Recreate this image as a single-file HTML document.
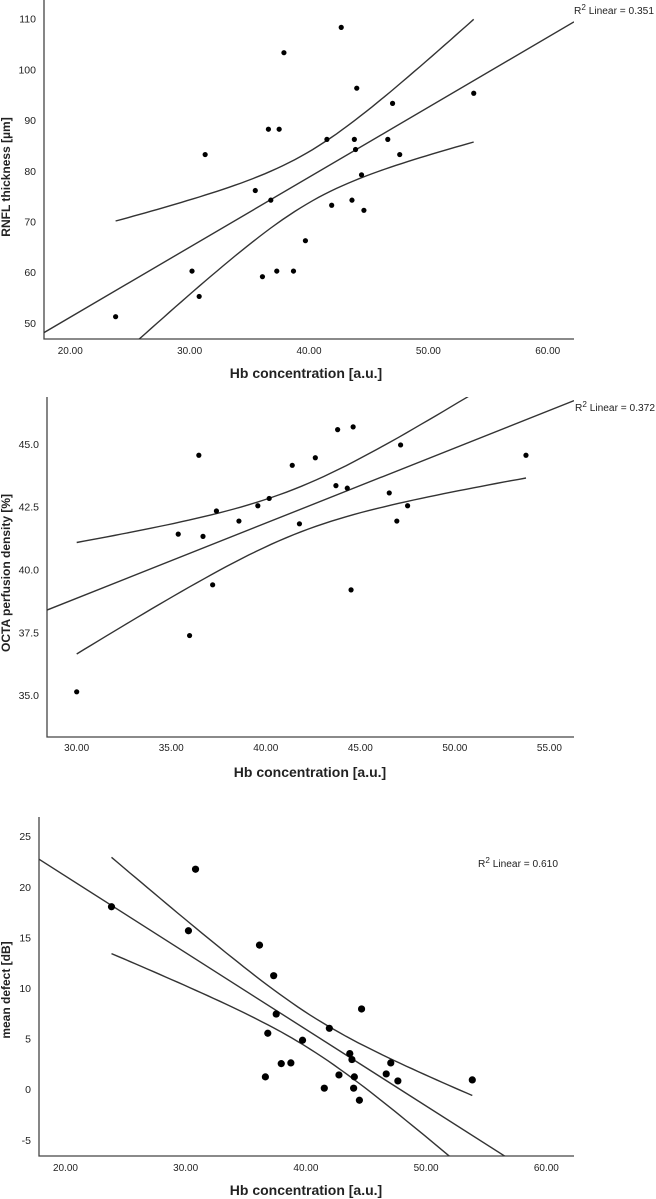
<!DOCTYPE html>
<html><head><meta charset="utf-8">
<style>
html,body{margin:0;padding:0;background:#fff;}
svg{display:block;}
text{font-family:"Liberation Sans Narrow","Liberation Sans",sans-serif;fill:#222;}
.tick{font-size:10.5px;}
.title{font-size:14px;font-weight:bold;font-family:"Liberation Sans",sans-serif;}
.ytitle{font-size:12px;font-weight:bold;font-family:"Liberation Sans",sans-serif;}
.r2{font-size:10px;}
</style></head>
<body>
<svg id="chart" width="656" height="1199" viewBox="0 0 656 1199"></svg>
<script>
// Panel 1: RNFL thickness
const rnflHb = [23.8,30.2,30.8,31.3,35.5,36.1,36.6,36.8,37.3,37.5,37.9,38.7,39.7,41.5,41.9,42.7,43.6,43.8,43.9,44.0,44.4,44.6,46.6,47.0,47.6,53.8];
const rnflVal = [51.2,60.2,55.2,83.2,76.1,59.1,88.2,74.2,60.2,88.2,103.3,60.2,66.2,86.2,73.2,108.3,74.2,86.2,84.2,96.3,79.2,72.2,86.2,93.3,83.2,95.3];
const rnflXTicks = [20,30,40,50,60];
const rnflYTicks = [50,60,70,80,90,100,110];
// Panel 2: OCTA perfusion density
const octaHb = [30.0,35.37,35.97,36.46,36.68,37.19,37.39,38.58,39.58,40.18,41.40,41.78,42.62,43.71,43.80,44.31,44.51,44.62,46.53,46.93,47.13,47.50,53.76];
const octaVal = [35.13,41.41,37.37,44.55,41.32,39.39,42.33,41.93,42.54,42.83,44.15,41.82,44.45,43.34,45.57,43.24,39.19,45.68,43.05,41.93,44.96,42.54,44.55];
const octaXTicks = [30,35,40,45,50,55];
const octaYTicks = [35,37.5,40,42.5,45];
// Panel 3: mean defect
const mdHb = [23.83,30.23,30.82,36.14,36.63,36.83,37.32,37.53,37.95,38.75,39.72,41.53,41.95,42.75,43.65,43.83,43.97,44.03,44.45,44.63,46.68,47.06,47.65,53.84];
const mdVal = [18.03,15.66,21.74,14.24,1.22,5.53,11.22,7.43,2.53,2.60,4.84,0.10,6.02,1.41,3.52,2.93,0.10,1.22,-1.09,7.93,1.51,2.60,0.82,0.92];
const mdXTicks = [20,30,40,50,60];
const mdYTicks = [-5,0,5,10,15,20,25];
const r2Labels = ["0.351","0.372","0.610"];

const NS = "http://www.w3.org/2000/svg";
const svg = document.getElementById('chart');
function mk(tag, attrs, parent){const e=document.createElementNS(NS,tag);for(const k in attrs)e.setAttribute(k,attrs[k]);(parent||svg).appendChild(e);return e;}

function panel(cfg, idx){
  const g = mk('g',{});
  
  
  const {L,R,T,B,xmin,xmax,ymin,ymax} = cfg;
  const sx = v => L + (v - xmin)/(xmax - xmin)*(R - L);
  const sy = v => B - (v - ymin)/(ymax - ymin)*(B - T);
  const clipId = 'clip'+idx;
  const cp = mk('clipPath',{id:clipId},g); mk('rect',{x:L,y:T,width:R-L,height:B-T},cp);
  const ax = mk('path',{d:`M${L},${T} L${L},${B} L${R},${B}`,fill:'none',stroke:'#444','stroke-width':1.3},g);
  
  
  cfg.xt.forEach(t=>{
    const e=mk('text',{x:sx(t),y:cfg.xly,'text-anchor':'middle',class:'tick',textLength:25,lengthAdjust:'spacingAndGlyphs'},g); e.textContent=t.toFixed(2);
    
    
  });
  cfg.yt.forEach(t=>{
    const e=mk('text',{x:L-8,y:sy(t)+4,'text-anchor':'end',class:'tick'},g); e.textContent=cfg.yfmt(t);
    
    
  });
  const xt=mk('text',{x:cfg.xtx,y:cfg.xty,'text-anchor':'middle',class:'title'},g); xt.textContent='Hb concentration [a.u.]';
  
  
  const yt=mk('text',{x:0,y:0,'text-anchor':'middle',class:'ytitle',transform:`translate(${cfg.ytx},${cfg.yty}) rotate(-90)`},g); yt.textContent=cfg.ytitle;
  
  
  const r2=mk('text',{x:cfg.r2x,y:cfg.r2y,class:'r2',textLength:80,lengthAdjust:'spacingAndGlyphs'},g);
  r2.innerHTML='R<tspan font-size="8" dy="-4">2</tspan><tspan dy="4"> Linear = '+r2Labels[idx]+'</tspan>';
  
  
  const X=cfg.x, Y=cfg.y, n=X.length;
  const mx=X.reduce((a,b)=>a+b,0)/n, my=Y.reduce((a,b)=>a+b,0)/n;
  let sxx=0,sxy=0; for(let i=0;i<n;i++){sxx+=(X[i]-mx)**2;sxy+=(X[i]-mx)*(Y[i]-my);}
  const b=sxy/sxx, a=my-b*mx;
  let sse=0; for(let i=0;i<n;i++) sse+=(Y[i]-a-b*X[i])**2;
  const s=Math.sqrt(sse/(n-2)), tq=2.07;
  const lg=mk('g',{'clip-path':`url(#${clipId})`},g);
  const fl=mk('line',{x1:sx(xmin),y1:sy(a+b*xmin),x2:sx(xmax),y2:sy(a+b*xmax),stroke:'#333','stroke-width':1.4},lg);
  
  
  const x0=Math.min(...X), x1=Math.max(...X);
  [1,-1].forEach(sg=>{
    let d='';
    for(let k=0;k<=60;k++){const xv=x0+(x1-x0)*k/60; const se=s*Math.sqrt(1/n+(xv-mx)**2/sxx); const yv=a+b*xv+sg*tq*se; d+=(k?'L':'M')+sx(xv).toFixed(1)+','+sy(yv).toFixed(1);}
    const p=mk('path',{d,fill:'none',stroke:'#333','stroke-width':1.4},lg);
    
    
  });
  for(let i=0;i<n;i++){
    const c=mk('circle',{cx:sx(X[i]),cy:sy(Y[i]),r:cfg.r,fill:'#000'},g);
    
    
  }
}

panel({name:'rnfl-panel',x:rnflHb,y:rnflVal,xt:rnflXTicks,yt:rnflYTicks,yfmt:t=>String(t),
  L:44,R:574,T:0,B:339,xmin:17.8,xmax:62.2,ymin:46.8,ymax:113.7,xly:354,xtx:306,xty:378,
  ytx:10,yty:177,ytitle:'RNFL thickness [µm]',r2x:574,r2y:14,r:2.6},0);
panel({name:'octa-panel',x:octaHb,y:octaVal,xt:octaXTicks,yt:octaYTicks,yfmt:t=>t.toFixed(1),
  L:47,R:574,T:397,B:737,xmin:28.43,xmax:56.3,ymin:33.33,ymax:46.87,xly:751,xtx:310,xty:777,
  ytx:10,yty:573,ytitle:'OCTA perfusion density [%]',r2x:575,r2y:411,r:2.6},1);
panel({name:'mean-defect-panel',x:mdHb,y:mdVal,xt:mdXTicks,yt:mdYTicks,yfmt:t=>String(t),
  L:39,R:574,T:817,B:1156,xmin:17.8,xmax:62.3,ymin:-6.6,ymax:26.9,xly:1171,xtx:306,xty:1195,
  ytx:10,yty:990,ytitle:'mean defect [dB]',r2x:478,r2y:867,r:3.6},2);
</script>
</body></html>
